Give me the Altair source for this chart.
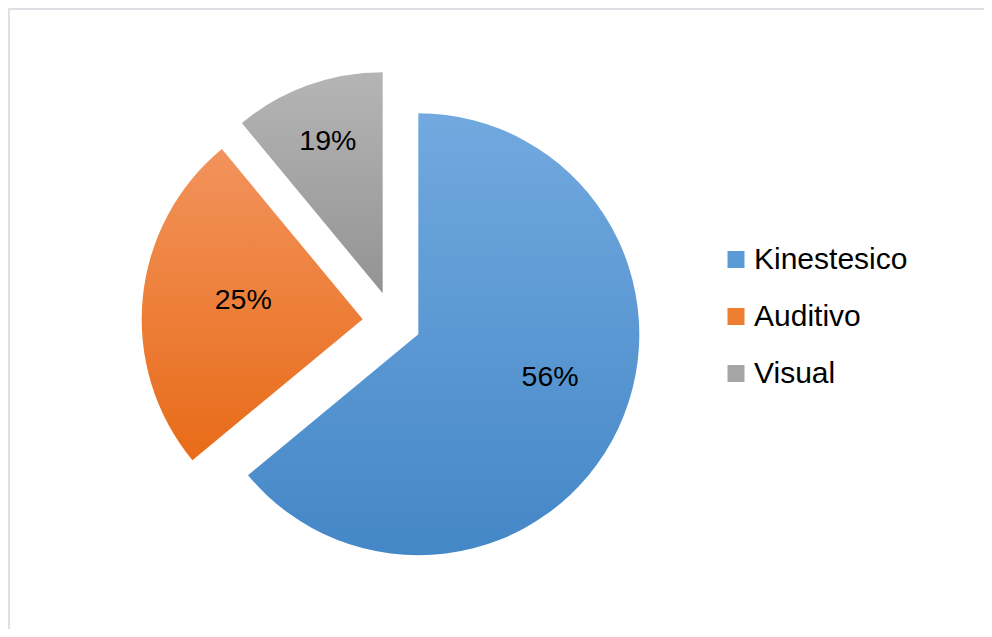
import math
import altair as alt
import pandas as pd

# ---- data ----
categories = ["Kinestesico", "Auditivo", "Visual"]
values = [64, 25, 11]                 # slice sizes as drawn (angles)
labels = ["56%", "25%", "19%"]        # label texts as printed
colors = ["#5B9BD5", "#ED7D31", "#A5A5A5"]
grad_top = ["#72A9DF", "#F2935C", "#B5B5B5"]
grad_bottom = ["#4487C7", "#E86B18", "#939393"]

df = pd.DataFrame({
    "category": categories,
    "value": values,
    "label": labels,
    "order": list(range(len(categories))),
})
total = sum(values)

FONT = "Liberation Sans"
theta_scale = alt.Scale(domain=[0, total], range=[0, 2 * math.pi])

base = alt.Chart().transform_window(
    end="sum(value)", sort=[alt.SortField("order")], frame=[None, 0]
).transform_calculate(
    start="datum.end - datum.value",
    mid="datum.end - datum.value / 2",
)

# explosion offsets (pixels) and label tweaks per slice
explode = {
    "Kinestesico": (26.3, 12.3),
    "Auditivo": (-29.3, -2.7),
    "Visual": (-9.3, -28.7),
}
label_r = {"Kinestesico": 139, "Auditivo": 120, "Visual": 162}
label_d = {"Kinestesico": (6, -16), "Auditivo": (0, -8), "Visual": (0, 0)}

layers = []
# frame lines (decorative)
layers.append(
    alt.Chart().mark_rule(color="#DDE1E6", strokeWidth=2).encode(
        x=alt.value(0), x2=alt.value(976), y=alt.value(-6)
    )
)
layers.append(
    alt.Chart().mark_rule(color="#DDE1E6", strokeWidth=2).encode(
        x=alt.value(1), y=alt.value(-7), y2=alt.value(614)
    )
)

for i, cat in enumerate(categories):
    ox, oy = explode[cat]
    grad = {
        "gradient": "linear",
        "x1": 0, "y1": 0, "x2": 0, "y2": 1,
        "stops": [
            {"offset": 0, "color": grad_top[i]},
            {"offset": 1, "color": grad_bottom[i]},
        ],
    }
    arc = base.transform_filter(alt.datum.category == cat).mark_arc(
        outerRadius=221, fill=grad, xOffset=ox, yOffset=oy
    ).encode(
        theta=alt.Theta("start:Q", scale=theta_scale),
        theta2="end:Q",
    )
    layers.append(arc)

for i, cat in enumerate(categories):
    ox, oy = explode[cat]
    dx, dy = label_d[cat]
    txt = base.transform_filter(alt.datum.category == cat).mark_text(
        radius=label_r[cat], font=FONT, fontSize=28.5, color="#000000",
        align="center", baseline="middle",
        xOffset=ox, yOffset=oy, dx=dx, dy=dy,
    ).encode(
        theta=alt.Theta("mid:Q", scale=theta_scale),
        text="label:N",
    )
    layers.append(txt)

legend_layer = alt.Chart().mark_point(
    shape="square", filled=True, opacity=0
).encode(
    color=alt.Color(
        "category:N",
        scale=alt.Scale(domain=categories, range=colors),
        sort=categories,
        legend=alt.Legend(
            title=None, orient="none", legendX=713, legendY=229.5,
            symbolType="square", symbolSize=289, symbolOpacity=1,
            symbolStrokeWidth=0, labelFont=FONT, labelFontSize=30,
            labelColor="#000000", rowPadding=27, labelOffset=3,
            labelLimit=300,
        ),
    )
)
layers.append(legend_layer)

chart = alt.layer(*layers, data=df).properties(
    width=768,
    height=614,
    autosize=alt.AutoSizeParams(type="none"),
    padding={"left": 0, "top": 7, "right": 208, "bottom": 0},
    background="#FFFFFF",
).configure_view(stroke=None)

chart.save("out.html", embed_options={"renderer": "svg", "actions": False})
